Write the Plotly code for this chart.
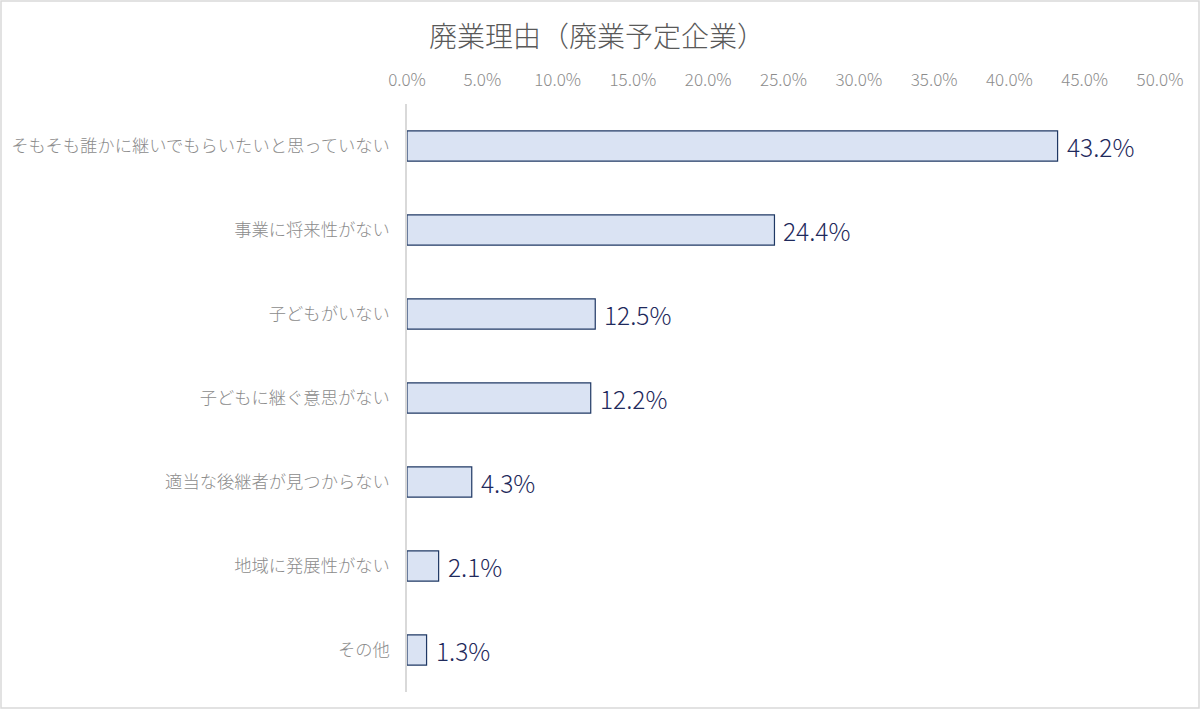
import plotly.graph_objects as go

title = "廃業理由（廃業予定企業）"
categories = [
    "そもそも誰かに継いでもらいたいと思っていない",
    "事業に将来性がない",
    "子どもがいない",
    "子どもに継ぐ意思がない",
    "適当な後継者が見つからない",
    "地域に発展性がない",
    "その他",
]
values = [43.2, 24.4, 12.5, 12.2, 4.3, 2.1, 1.3]
tick_vals = [0, 5, 10, 15, 20, 25, 30, 35, 40, 45, 50]
tick_text = [f"{v:.1f}%" for v in tick_vals]
labels = [f"{v:.1f}%" for v in values]

FONT = "Noto Sans CJK JP"

fig = go.Figure(
    go.Bar(
        x=values,
        y=categories,
        orientation="h",
        marker=dict(color="#dae3f3", line=dict(color="#1f3864", width=1.2)),
        width=0.36,
        hoverinfo="x+y",
    )
)

for v, c, t in zip(values, categories, labels):
    fig.add_annotation(
        x=v, y=c, text=t, xref="x", yref="y",
        xanchor="left", yanchor="middle", xshift=7, showarrow=False,
        font=dict(family=FONT, size=24.5, color="#1f2a5c", weight=300),
    )

W, H = 1200, 709
ml, mr, mt, mb = 407, 40, 104, 17
pw = W - ml - mr
ph = H - mt - mb

fig.update_layout(
    width=W,
    height=H,
    margin=dict(l=ml, r=mr, t=mt, b=mb, pad=0),
    paper_bgcolor="white",
    plot_bgcolor="white",
    showlegend=False,
    title=dict(
        text=title,
        x=597 / W,
        xanchor="center",
        y=1 - 37 / H,
        yanchor="middle",
        font=dict(family=FONT, size=28, color="#595959", weight=300),
    ),
    xaxis=dict(
        range=[0, 50],
        side="top",
        tickvals=tick_vals,
        ticktext=tick_text,
        tickfont=dict(family=FONT, size=17, color="#8c8c8c", weight=300),
        showgrid=False,
        zeroline=False,
        showline=False,
        ticks="",
        ticklabelstandoff=14,
        automargin=False,
        fixedrange=True,
    ),
    yaxis=dict(
        autorange="reversed",
        tickfont=dict(family=FONT, size=17.3, color="#8c8c8c", weight=300),
        showgrid=False,
        zeroline=False,
        showline=True,
        linecolor="#d9d9d9",
        linewidth=1.5,
        ticks="",
        ticklabelstandoff=12,
        automargin=False,
        fixedrange=True,
    ),
    shapes=[
        dict(
            type="rect",
            xref="paper",
            yref="paper",
            x0=-(ml - 1) / pw,
            x1=1 + (mr - 1) / pw,
            y0=-(mb - 1) / ph,
            y1=1 + (mt - 1) / ph,
            line=dict(color="#d9d9d9", width=1.5),
            fillcolor="rgba(0,0,0,0)",
            layer="below",
        )
    ],
)

fig.write_html(
    "out.html",
    config={"displayModeBar": False},
    post_script="document.body.style.margin='0';document.body.style.overflow='hidden';",
)
